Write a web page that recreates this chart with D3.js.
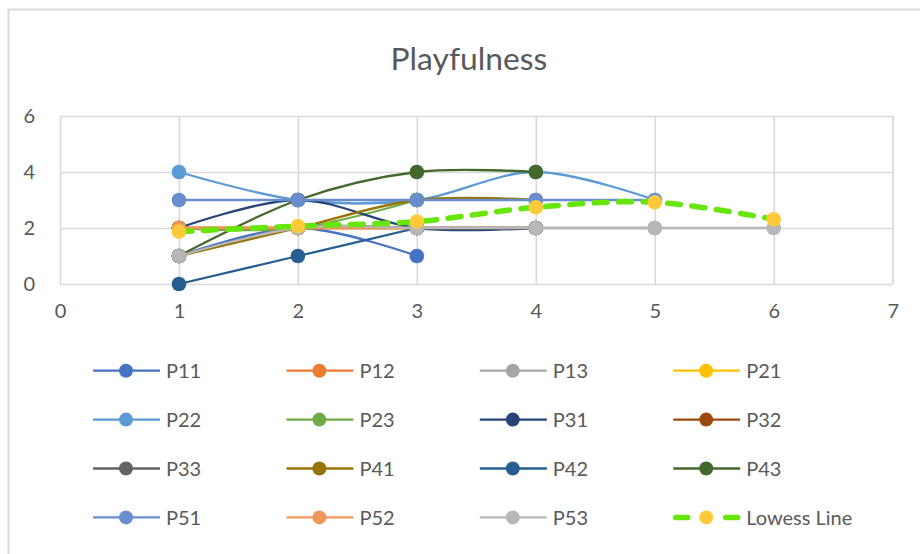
<!DOCTYPE html>
<html>
<head>
<meta charset="utf-8">
<script src="https://cdn.jsdelivr.net/npm/d3@7"></script>
<style>
  html, body { margin: 0; padding: 0; background: #fff; }
  svg { display: block; font-family: Lato, "Open Sans", sans-serif; }
</style>
</head>
<body>
<svg id="chart" width="920" height="554"></svg>
<script>
// Playfulness ratings per participant over sessions 1..n
const chartTitle = "Playfulness";
const xTicks = [0, 1, 2, 3, 4, 5, 6, 7];
const yTicks = [0, 2, 4, 6];

const P11 = [1, 2, 1];
const P12 = [2, 2];
const P13 = [1, 2, 2, 2, 2];
const P21 = [2, 2, 2];
const P22 = [4, 3, 3, 4, 3];
const P23 = [2, 2, 3];
const P31 = [2, 3, 2, 2];
const P32 = [2, 2, 2, 2];
const P33 = [1, 2, 2, 2];
const P41 = [1, 2, 3, 3];
const P42 = [0, 1, 2];
const P43 = [1, 3, 4, 4];
const P51 = [3, 3, 3, 3, 3];
const P52 = [2, 2, 2];
const P53 = [1, 2, 2, 2, 2, 2];
const lowess = [1.87, 2.07, 2.23, 2.74, 2.92, 2.31];

const seriesNames = ["P11", "P12", "P13", "P21", "P22", "P23", "P31", "P32",
                     "P33", "P41", "P42", "P43", "P51", "P52", "P53"];
const seriesValues = [P11, P12, P13, P21, P22, P23, P31, P32,
                      P33, P41, P42, P43, P51, P52, P53];
const seriesColors = ["#4472C4", "#ED7D31", "#A5A5A5", "#FFC000", "#5B9BD5", "#70AD47",
                      "#264478", "#9E480E", "#636363", "#997300", "#255E91", "#43682B",
                      "#698ED0", "#F1975A", "#B7B7B7"];
const lowessName = "Lowess Line";
const lowessLineColor = "#66E60A";
const lowessMarkerColor = "#FFCA3A";

const svg = d3.select("#chart");
const textColor = "#595959";

// outer chart frame
svg.append("rect")
  .attr("x", 8.5).attr("y", 9.5)
  .attr("width", 930).attr("height", 560)
  .attr("fill", "#fff").attr("stroke", "#D9D9D9").attr("stroke-width", 2);

svg.append("text")
  .attr("x", 469).attr("y", 69.5)
  .attr("text-anchor", "middle")
  .attr("fill", textColor)
  .style("font-size", "31.8px")
  .text(chartTitle);

const plot = { left: 60, right: 892.7, top: 116, bottom: 284 };
const x = d3.scaleLinear().domain([0, 7]).range([plot.left, plot.right]);
const y = d3.scaleLinear().domain([0, 6]).range([plot.bottom, plot.top]);

// gridlines
const gridY = svg.append("g")
  .attr("transform", `translate(${plot.left},0)`)
  .call(d3.axisLeft(y).tickValues(yTicks).tickSize(-(plot.right - plot.left)).tickFormat(""));
const gridX = svg.append("g")
  .attr("transform", `translate(0,${plot.bottom})`)
  .call(d3.axisBottom(x).tickValues(xTicks).tickSize(-(plot.bottom - plot.top)).tickFormat(""));
[gridY, gridX].forEach(g => {
  g.select(".domain").remove();
  g.selectAll("line").attr("stroke", "#D9D9D9").attr("stroke-width", 1.6);
});

// tick labels
const fmt = d3.format("d");
const axY = svg.append("g")
  .attr("transform", `translate(${plot.left},0)`)
  .call(d3.axisLeft(y).tickValues(yTicks).tickFormat(fmt).tickSize(0).tickPadding(25));
const axX = svg.append("g")
  .attr("transform", `translate(0,${plot.bottom})`)
  .call(d3.axisBottom(x).tickValues(xTicks).tickFormat(fmt).tickSize(0));
[axY, axX].forEach(g => {
  g.select(".domain").remove();
  g.selectAll("text").attr("fill", textColor).style("font-size", "20px").style("font-family", "Lato, sans-serif");
});
axX.selectAll("text").attr("dy", null).attr("y", 34);

const line = d3.line()
  .x(d => x(d.x))
  .y(d => y(d.y))
  .curve(d3.curveCardinal.tension(0));

const toPoints = vals => vals.map((v, i) => ({ x: i + 1, y: v }));
const markerR = 7.3;

// participant series, drawn in order so later series sit on top
seriesValues.forEach((vals, i) => {
  const g = svg.append("g");
  const pts = toPoints(vals);
  g.append("path")
    .datum(pts)
    .attr("d", line)
    .attr("fill", "none")
    .attr("stroke", seriesColors[i])
    .attr("stroke-width", 2.3);
  g.selectAll("circle").data(pts).join("circle")
    .attr("cx", d => x(d.x)).attr("cy", d => y(d.y))
    .attr("r", markerR)
    .attr("fill", seriesColors[i]);
});

// lowess trend
const lowessPts = toPoints(lowess);
const gl = svg.append("g");
gl.append("path")
  .datum(lowessPts)
  .attr("d", line)
  .attr("fill", "none")
  .attr("stroke", lowessLineColor)
  .attr("stroke-width", 5.5)
  .attr("stroke-linecap", "round")
  .attr("stroke-dasharray", "13,11.5");
gl.selectAll("circle").data(lowessPts).join("circle")
  .attr("cx", d => x(d.x)).attr("cy", d => y(d.y))
  .attr("r", markerR)
  .attr("fill", lowessMarkerColor);

// legend
const legendItems = seriesNames.map((n, i) => ({ name: n, color: seriesColors[i], lowess: false }))
  .concat([{ name: lowessName, color: lowessLineColor, lowess: true }]);
const legend = svg.append("g");
const item = legend.selectAll("g").data(legendItems).join("g")
  .attr("transform", (d, i) => `translate(${93 + (i % 4) * 193.4},${370.7 + Math.floor(i / 4) * 48.9})`);
item.append("line")
  .attr("x1", d => d.lowess ? 2.5 : 0).attr("x2", d => d.lowess ? 64.5 : 67)
  .attr("y1", 0).attr("y2", 0)
  .attr("stroke", d => d.color)
  .attr("stroke-width", d => d.lowess ? 5.5 : 2.3)
  .attr("stroke-linecap", d => d.lowess ? "round" : "butt")
  .attr("stroke-dasharray", d => d.lowess ? "12,38" : null);
item.append("circle")
  .attr("cx", 33).attr("cy", 0).attr("r", 7)
  .attr("fill", d => d.lowess ? lowessMarkerColor : d.color);
item.append("text")
  .attr("x", 73).attr("y", 7.5)
  .attr("fill", textColor)
  .style("font-size", "20px")
  .text(d => d.name);
</script>
</body>
</html>
